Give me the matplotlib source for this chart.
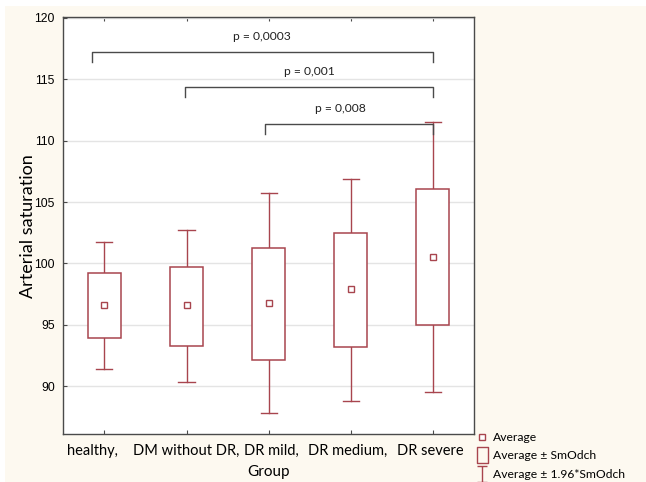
import matplotlib
matplotlib.use("Agg")
import matplotlib.pyplot as plt
import numpy as np
from matplotlib.lines import Line2D
from matplotlib.path import Path
from matplotlib.patches import Rectangle
from matplotlib.transforms import ScaledTranslation

# values
groups = ["healthy,", "DM without DR,", "DR mild,", "DR medium,", "DR severe"]
means = [96.6, 96.6, 96.8, 97.9, 100.5]
box_lo = [93.9, 93.3, 92.1, 93.2, 94.95]
box_hi = [99.2, 99.7, 101.25, 102.45, 106.1]
whisk_lo = [91.4, 90.3, 87.8, 88.8, 89.55]
whisk_hi = [101.75, 102.75, 105.7, 106.9, 111.5]

cmp_from = [0, 1, 2]
cmp_to = [4, 4, 4]
p_labels = ["p = 0,0003", "p = 0,001", "p = 0,008"]

red = "#a8454e"
grey = "#4a4a4a"
sans = ["Lato", "DejaVu Sans"]

fig = plt.figure(figsize=(6.46, 4.82), dpi=100, facecolor="white")
fig.patches.append(Rectangle((5 / 646, 0), 1, 1 - 6 / 482, transform=fig.transFigure,
                             facecolor="#fdf9f0", edgecolor="none", zorder=-10))
ax = fig.add_axes([0.098, 0.0996, 0.6357, 0.8644])
ax.set_facecolor("white")

x = np.arange(len(groups))
bw = 0.4
cw = 0.195
for i in x:
    ax.add_patch(Rectangle((i - bw / 2, box_lo[i]), bw, box_hi[i] - box_lo[i],
                           facecolor="white", edgecolor=red, lw=1.1, zorder=3))
    ax.plot([i, i], [box_hi[i], whisk_hi[i]], color=red, lw=1.0, zorder=2)
    ax.plot([i, i], [whisk_lo[i], box_lo[i]], color=red, lw=1.0, zorder=2)
    ax.plot([i - cw / 2, i + cw / 2], [whisk_hi[i]] * 2, color=red, lw=1.0, zorder=2)
    ax.plot([i - cw / 2, i + cw / 2], [whisk_lo[i]] * 2, color=red, lw=1.0, zorder=2)
ax.plot(x, means, "s", ms=4.5, mfc="white", mec=red, mew=1.0, ls="none", zorder=4)

# significance brackets
left_shift = [-0.155, -0.02, -0.05]
levels = [117.2, 114.35, 111.35]
text_dx = [0.0, 0.0, -0.1]
for k in range(len(p_labels)):
    x0 = cmp_from[k] + left_shift[k]
    x1 = cmp_to[k]
    y = levels[k]
    ax.plot([x0, x0, x1, x1], [y - 0.8, y, y, y - 0.8], color=grey, lw=1, zorder=2)
    ax.text((x0 + x1) / 2 + text_dx[k], y + 1.25, p_labels[k], ha="center", va="center",
            fontsize=8.7, family=sans, color="#222222")

ax.set_xlim(-0.5, 4.5)
ax.set_ylim(86.1, 120.05)
ax.set_yticks([90, 95, 100, 105, 110, 115, 120])
ax.set_xticks(x)
ax.set_xticklabels(groups, family=sans, fontsize=10.5)
for lbl in ax.get_yticklabels():
    lbl.set_family(["Liberation Sans", "DejaVu Sans"])
    lbl.set_fontsize(8.7)
ax.tick_params(axis="x", direction="in", length=3, top=True, color=grey, pad=7)
ax.tick_params(axis="y", direction="in", length=3, color=grey, pad=6)
ax.grid(axis="y", color="#e4e4e4", lw=1)
ax.set_axisbelow(True)
for s in ax.spines.values():
    s.set_color(grey)
    s.set_linewidth(1)

# tick labels sit like one spread-out string in the reference
shift_px = [-12.3, -0.7, 2.3, -2.9, -3.0]
for lbl, dx in zip(ax.get_xticklabels(), shift_px):
    lbl.set_transform(lbl.get_transform() + ScaledTranslation(dx / 100, 0, fig.dpi_scale_trans))

ax.set_xlabel("Group", family=sans, fontsize=11, labelpad=5)
ax.set_ylabel("Arterial saturation", family=sans, fontsize=13, labelpad=-1)

# legend
box_marker = Path([(-0.36, -0.5), (0.36, -0.5), (0.36, 0.5), (-0.36, 0.5), (-0.36, -0.5)],
                  [Path.MOVETO, Path.LINETO, Path.LINETO, Path.LINETO, Path.CLOSEPOLY])
bar_marker = Path([(-0.3, 0.5), (0.3, 0.5), (0, 0.5), (0, -0.5), (-0.3, -0.5), (0.3, -0.5)],
                  [Path.MOVETO, Path.LINETO, Path.MOVETO, Path.LINETO, Path.MOVETO, Path.LINETO])
handles = [
    Line2D([], [], marker="s", ms=4, mfc="white", mec=red, mew=1, ls="none"),
    Line2D([], [], marker=box_marker, ms=11, mfc="none", mec=red, mew=1, ls="none"),
    Line2D([], [], marker=bar_marker, ms=11, mfc="none", mec=red, mew=1, ls="none"),
]
fig.legend(handles, ["Average", "Average \u00b1 SmOdch", "Average \u00b1 1.96*SmOdch"],
           loc="upper left", bbox_to_anchor=(0.737, 0.104), frameon=False,
           prop={"family": sans, "size": 8.7}, handlelength=0.9, handletextpad=0.5,
           labelspacing=0.62, borderpad=0, borderaxespad=0)

fig.savefig("out.png", dpi=100, facecolor=fig.get_facecolor())
